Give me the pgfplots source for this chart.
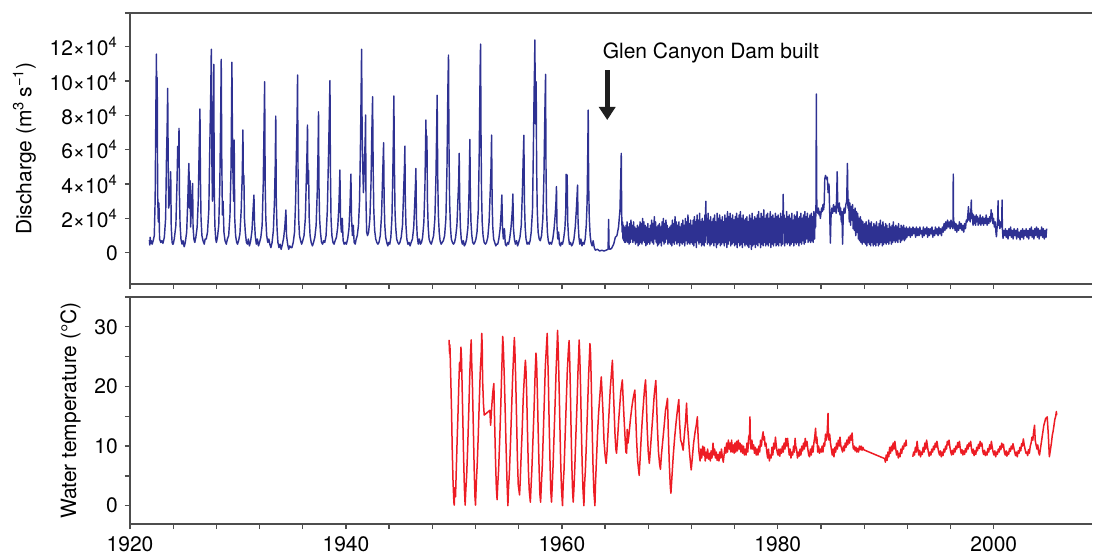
\documentclass[border=0pt]{standalone}
\usepackage{pgfplots}
\pgfplotsset{compat=1.18}
\usepackage{fontspec}
\setmainfont{TeX Gyre Heros}
\usetikzlibrary{arrows.meta}
\definecolor{qblue}{RGB}{46,49,146}
\definecolor{tred}{RGB}{237,28,36}
\definecolor{axgray}{RGB}{77,77,77}

\pgfplotsset{
  panel/.style={
    scale only axis, width=481pt,
    xmin=1920, xmax=2009.1,
    axis x line*=bottom, axis y line*=left,
    axis line style={-, axgray, line width=0.65pt},
    tick align=outside, major tick length=2.6pt, minor tick length=2.6pt,
    tick style={axgray, line width=0.65pt},
    xtick={1920,1940,...,2000}, minor x tick num=4,
    tick label style={font=\fontsize{10.5}{12}\selectfont},
    label style={font=\fontsize{10.5}{12}\selectfont},
    /pgf/number format/assume math mode=true,
    /pgf/number format/1000 sep={},
    clip mode=individual,
  },
}

\begin{document}
\begin{tikzpicture}
% ---- discharge (values in 10^4 m3/s) ----
\begin{axis}[panel, name=top, at={(65pt,-6.5pt)}, anchor=north west,
    height=135.5pt, ymin=-1.82, ymax=13.96,
    ytick={0,2,...,12},
    yticklabels={0,2×10\textsuperscript{4},4×10\textsuperscript{4},6×10\textsuperscript{4},8×10\textsuperscript{4},10×10\textsuperscript{4},12×10\textsuperscript{4}},
    xticklabels={},
    ylabel={Discharge (m\textsuperscript{3}\,s\textsuperscript{−1})},
]
\addplot[qblue, line width=0.72pt, line join=round] coordinates {
(1921.80,0.74)(1921.83,0.45)(1921.87,0.9)(1921.92,0.55)(1921.97,0.7)
(1922.05,0.5)(1922.15,0.7)(1922.25,1.0)(1922.33,3.1)(1922.40,8.6)(1922.45,11.57)(1922.48,7.5)(1922.52,10.2)(1922.56,3.5)(1922.62,1.8)(1922.68,2.9)(1922.74,0.8)(1922.85,0.6)(1922.95,0.7)
(1923.05,0.55)(1923.18,0.9)(1923.30,2.0)(1923.38,5.5)(1923.44,7.2)(1923.49,9.57)(1923.53,6.0)(1923.58,2.6)(1923.68,3.0)(1923.77,4.72)(1923.82,1.5)(1923.90,0.6)(1923.95,0.5)
(1924.00,0.5)(1924.10,0.8)(1924.25,1.6)(1924.35,4.0)(1924.42,6.2)(1924.48,5.0)(1924.54,7.24)(1924.58,3.4)(1924.64,1.6)(1924.72,0.8)(1924.82,0.5)(1924.92,0.7)
(1925.02,0.35)(1925.12,0.6)(1925.25,1.2)(1925.36,3.2)(1925.42,4.6)(1925.46,5.2)(1925.50,2.6)(1925.56,4.2)(1925.62,1.5)(1925.70,3.0)(1925.80,4.04)(1925.84,1.5)(1925.92,0.8)
(1926.00,0.6)(1926.10,0.9)(1926.22,1.5)(1926.32,3.0)(1926.40,5.8)(1926.48,8.37)(1926.52,4.5)(1926.58,2.0)(1926.66,1.0)(1926.76,0.7)(1926.88,0.5)(1926.96,0.8)
(1927.06,0.8)(1927.18,1.2)(1927.30,2.5)(1927.40,6.5)(1927.47,8.9)(1927.53,11.85)(1927.58,5.5)(1927.64,3.0)(1927.72,8.0)(1927.76,10.97)(1927.80,4.0)(1927.86,1.6)(1927.94,0.8)
(1928.00,0.6)(1928.10,0.9)(1928.22,1.6)(1928.32,4.0)(1928.40,8.0)(1928.45,11.26)(1928.50,5.5)(1928.56,2.2)(1928.62,3.0)(1928.70,1.2)(1928.80,0.7)(1928.92,0.5)
(1929.02,0.8)(1929.14,1.0)(1929.26,2.2)(1929.36,5.0)(1929.44,11.09)(1929.48,7.5)(1929.54,4.5)(1929.60,3.0)(1929.65,6.56)(1929.70,2.0)(1929.78,1.0)(1929.88,0.6)(1929.96,0.5)
(1930.06,0.7)(1930.18,1.1)(1930.30,2.5)(1930.40,4.6)(1930.46,7.15)(1930.50,4.0)(1930.55,4.5)(1930.60,2.0)(1930.68,1.2)(1930.78,0.6)(1930.88,0.5)(1930.96,0.8)
(1931.06,0.4)(1931.18,0.7)(1931.30,1.3)(1931.40,2.5)(1931.48,3.36)(1931.53,1.8)(1931.60,1.0)(1931.70,0.5)(1931.80,0.8)(1931.90,0.4)
(1932.00,0.6)(1932.12,0.9)(1932.24,1.6)(1932.34,4.0)(1932.42,7.6)(1932.47,9.96)(1932.52,4.0)(1932.58,2.0)(1932.66,1.0)(1932.76,0.6)(1932.86,0.8)(1932.95,0.5)
(1933.05,0.3)(1933.16,0.6)(1933.28,1.3)(1933.38,3.0)(1933.45,5.0)(1933.50,7.96)(1933.55,3.0)(1933.62,1.4)(1933.70,0.6)(1933.80,0.3)(1933.90,0.5)
(1934.00,0.2)(1934.12,0.5)(1934.24,0.9)(1934.34,1.5)(1934.44,2.49)(1934.50,1.0)(1934.60,0.5)(1934.70,0.2)(1934.80,0.4)(1934.90,0.3)
(1935.00,0.3)(1935.12,0.6)(1935.24,1.2)(1935.34,3.0)(1935.42,6.0)(1935.48,8.0)(1935.52,10.35)(1935.56,5.0)(1935.62,2.0)(1935.70,1.0)(1935.80,0.7)(1935.90,0.5)
(1936.00,0.7)(1936.12,1.0)(1936.24,2.0)(1936.34,4.5)(1936.40,6.0)(1936.44,7.44)(1936.48,4.0)(1936.54,4.8)(1936.60,2.0)(1936.68,1.0)(1936.78,0.6)(1936.90,0.4)
(1937.00,0.6)(1937.12,0.9)(1937.24,1.6)(1937.34,3.5)(1937.42,6.0)(1937.46,8.21)(1937.50,4.0)(1937.56,2.0)(1937.64,1.2)(1937.74,0.6)(1937.84,0.5)(1937.94,0.7)
(1938.04,0.6)(1938.16,1.0)(1938.28,2.5)(1938.38,5.5)(1938.46,8.0)(1938.52,10.02)(1938.56,5.0)(1938.62,2.0)(1938.70,1.0)(1938.80,0.6)(1938.90,0.5)
(1939.00,0.7)(1939.12,0.9)(1939.24,1.5)(1939.34,2.6)(1939.40,3.8)(1939.44,4.82)(1939.50,2.0)(1939.58,1.2)(1939.66,2.0)(1939.74,0.7)(1939.84,0.5)(1939.94,0.6)
(1940.04,0.5)(1940.16,0.8)(1940.28,1.4)(1940.38,2.8)(1940.46,4.58)(1940.52,2.0)(1940.60,1.0)(1940.68,1.6)(1940.76,0.6)(1940.86,0.5)(1940.95,0.8)
(1941.05,1.0)(1941.16,1.6)(1941.26,3.0)(1941.34,6.0)(1941.40,9.0)(1941.45,11.85)(1941.50,7.0)(1941.56,5.0)(1941.62,3.5)(1941.70,5.0)(1941.78,6.5)(1941.82,8.02)(1941.86,3.0)(1941.92,1.2)
(1942.00,1.0)(1942.10,1.2)(1942.22,2.0)(1942.32,4.0)(1942.40,7.0)(1942.47,9.09)(1942.52,5.0)(1942.58,2.5)(1942.66,1.3)(1942.76,0.8)(1942.86,0.6)(1942.96,0.5)
(1943.06,0.6)(1943.18,1.0)(1943.30,2.2)(1943.40,4.5)(1943.49,6.41)(1943.54,3.0)(1943.60,1.6)(1943.68,0.9)(1943.78,0.6)(1943.88,0.4)(1943.96,0.6)
(1944.06,0.5)(1944.16,0.9)(1944.26,2.0)(1944.34,4.5)(1944.40,7.0)(1944.44,9.13)(1944.49,5.0)(1944.55,2.3)(1944.62,1.4)(1944.70,0.8)(1944.80,0.6)(1944.90,0.5)
(1945.00,0.6)(1945.12,0.9)(1945.24,1.6)(1945.34,3.5)(1945.42,5.0)(1945.46,6.21)(1945.50,3.0)(1945.56,1.6)(1945.64,0.8)(1945.74,0.5)(1945.84,0.6)(1945.94,0.4)
(1946.04,0.6)(1946.16,0.8)(1946.28,1.5)(1946.38,3.0)(1946.44,4.0)(1946.48,4.91)(1946.53,2.0)(1946.60,1.0)(1946.70,0.5)(1946.80,0.8)(1946.90,0.5)
(1947.00,0.6)(1947.10,0.9)(1947.22,1.8)(1947.32,4.0)(1947.41,7.73)(1947.45,5.0)(1947.50,6.8)(1947.55,3.0)(1947.62,1.5)(1947.70,0.8)(1947.80,0.6)(1947.90,0.5)
(1948.00,0.7)(1948.12,1.0)(1948.24,2.0)(1948.34,4.5)(1948.40,7.0)(1948.45,9.17)(1948.50,4.5)(1948.56,2.2)(1948.64,1.2)(1948.72,0.7)(1948.82,0.5)(1948.92,0.6)
(1949.02,0.7)(1949.14,1.0)(1949.26,2.0)(1949.36,5.0)(1949.44,9.5)(1949.50,11.51)(1949.54,6.5)(1949.60,3.0)(1949.68,1.5)(1949.76,0.8)(1949.86,0.6)(1949.96,0.5)
(1950.06,0.6)(1950.16,0.9)(1950.28,1.6)(1950.38,3.2)(1950.44,4.1)(1950.49,5.79)(1950.54,3.0)(1950.60,1.5)(1950.68,0.8)(1950.78,0.5)(1950.88,0.7)(1950.96,0.4)
(1951.06,0.5)(1951.18,0.8)(1951.30,1.5)(1951.40,3.5)(1951.48,6.6)(1951.52,3.5)(1951.58,1.8)(1951.66,1.0)(1951.74,0.6)(1951.84,0.5)(1951.94,0.6)
(1952.04,0.8)(1952.14,1.2)(1952.26,2.5)(1952.34,5.5)(1952.40,9.0)(1952.44,11.1)(1952.47,12.15)(1952.51,7.0)(1952.56,3.5)(1952.62,1.8)(1952.70,1.0)(1952.80,0.6)(1952.92,0.5)
(1953.02,0.6)(1953.14,0.9)(1953.26,1.8)(1953.36,3.5)(1953.44,5.0)(1953.49,6.85)(1953.54,3.0)(1953.60,1.5)(1953.68,0.8)(1953.78,0.6)(1953.88,0.4)(1953.96,0.5)
(1954.06,0.5)(1954.16,0.8)(1954.28,1.4)(1954.38,2.4)(1954.44,3.36)(1954.50,1.5)(1954.58,0.8)(1954.68,1.4)(1954.76,0.5)(1954.86,0.4)(1954.96,0.6)
(1955.06,0.5)(1955.16,0.8)(1955.28,1.4)(1955.38,2.2)(1955.42,2.6)(1955.46,3.42)(1955.52,1.4)(1955.60,0.8)(1955.70,0.5)(1955.80,0.7)(1955.90,0.4)
(1956.00,0.6)(1956.12,0.9)(1956.24,1.6)(1956.34,3.5)(1956.42,5.5)(1956.48,6.84)(1956.53,3.0)(1956.60,1.5)(1956.68,0.8)(1956.78,0.5)(1956.88,0.6)(1956.96,0.5)
(1957.06,0.7)(1957.16,1.2)(1957.28,2.5)(1957.36,6.0)(1957.42,9.0)(1957.46,10.5)(1957.50,12.39)(1957.55,7.5)(1957.62,9.96)(1957.66,5.0)(1957.72,2.5)(1957.80,1.2)(1957.90,0.8)
(1958.00,0.7)(1958.12,1.0)(1958.24,2.0)(1958.34,4.5)(1958.42,8.0)(1958.49,10.39)(1958.53,5.0)(1958.58,2.5)(1958.66,1.2)(1958.74,0.7)(1958.84,0.5)(1958.94,0.6)
(1959.04,0.5)(1959.16,0.8)(1959.28,1.4)(1959.38,2.2)(1959.45,2.9)(1959.50,3.85)(1959.55,1.5)(1959.62,0.8)(1959.70,1.2)(1959.78,0.5)(1959.88,0.4)(1959.96,0.6)
(1960.06,0.5)(1960.16,0.8)(1960.28,1.4)(1960.36,2.5)(1960.40,4.57)(1960.44,3.9)(1960.49,4.53)(1960.54,1.8)(1960.62,0.9)(1960.70,0.5)(1960.80,0.6)(1960.90,0.4)
(1961.00,0.5)(1961.12,0.8)(1961.24,1.5)(1961.34,2.5)(1961.42,3.5)(1961.45,3.94)(1961.50,1.8)(1961.58,0.9)(1961.66,0.5)(1961.76,0.8)(1961.86,0.4)(1961.96,0.6)
(1962.06,0.5)(1962.16,0.8)(1962.26,1.6)(1962.34,3.0)(1962.40,6.0)(1962.44,8.31)(1962.48,4.0)(1962.54,2.0)(1962.62,1.0)(1962.70,0.6)(1962.80,0.4)(1962.90,0.7)
(1963.00,0.3)(1963.10,0.15)(1963.30,0.2)(1963.50,0.1)(1963.70,0.15)(1963.90,0.1)(1964.10,0.15)(1964.28,0.2)(1964.33,1.94)(1964.37,0.3)(1964.45,0.2)(1964.60,0.25)(1964.80,0.5)(1964.95,0.9)
(1965.10,1.0)(1965.25,1.5)(1965.38,2.5)(1965.46,4.5)(1965.50,5.79)(1965.54,2.3)
(1965.58,1.2)(1965.62,1.8)(1965.66,0.8)(1965.70,1.6)(1965.74,0.7)(1965.78,1.5)(1965.82,0.6)(1965.86,1.4)(1965.90,0.6)(1965.94,1.6)(1965.98,0.7)
(1966.04,1.8)(1966.10,0.6)(1966.16,1.5)(1966.22,0.5)(1966.28,1.7)(1966.34,0.6)(1966.40,1.9)(1966.46,0.8)(1966.52,1.6)(1966.58,0.6)(1966.64,1.8)(1966.70,0.7)(1966.76,1.5)(1966.82,0.5)(1966.88,1.4)(1966.94,0.6)
(1967.00,1.6)(1967.06,0.4)(1967.12,1.5)(1967.18,0.5)(1967.24,1.8)(1967.30,0.6)(1967.36,1.7)(1967.42,0.5)(1967.48,2.0)(1967.54,0.7)(1967.60,1.8)(1967.66,0.6)(1967.72,1.6)(1967.78,0.4)(1967.84,1.5)(1967.90,0.5)(1967.96,1.7)
(1968.02,0.6)(1968.08,1.4)(1968.14,0.5)(1968.20,1.6)(1968.26,0.7)(1968.32,1.9)(1968.38,0.6)(1968.44,1.7)(1968.50,0.5)(1968.56,2.1)(1968.62,0.8)(1968.68,1.8)(1968.74,0.6)(1968.80,1.5)(1968.86,0.4)(1968.92,1.6)(1968.98,0.5)
(1969.04,1.7)(1969.10,0.6)(1969.16,1.5)(1969.22,0.4)(1969.28,1.8)(1969.34,0.7)(1969.40,2.0)(1969.46,0.5)(1969.52,1.7)(1969.58,0.6)(1969.64,1.9)(1969.70,0.8)(1969.76,1.6)(1969.82,0.5)(1969.88,1.4)(1969.94,0.6)
(1970.00,1.5)(1970.06,0.5)(1970.12,1.6)(1970.18,0.4)(1970.24,1.9)(1970.30,0.6)(1970.36,1.7)(1970.42,0.5)(1970.48,2.1)(1970.54,0.7)(1970.60,1.8)(1970.66,0.5)(1970.72,1.6)(1970.78,0.6)(1970.84,1.8)(1970.90,0.4)(1970.96,1.5)
(1971.02,0.6)(1971.08,1.7)(1971.14,0.5)(1971.20,1.9)(1971.26,0.6)(1971.32,1.6)(1971.38,0.4)(1971.44,2.0)(1971.50,0.7)(1971.56,1.8)(1971.62,0.5)(1971.68,2.2)(1971.74,0.6)(1971.80,1.7)(1971.86,0.5)(1971.92,1.9)(1971.98,0.6)
(1972.04,1.6)(1972.10,0.5)(1972.16,1.9)(1972.22,0.4)(1972.28,2.1)(1972.34,0.6)(1972.40,1.8)(1972.46,0.3)(1972.52,2.2)(1972.58,0.7)(1972.64,1.9)(1972.70,0.5)(1972.76,2.3)(1972.82,0.6)(1972.88,1.8)(1972.94,0.4)
(1973.00,2.0)(1973.06,0.5)(1973.12,1.8)(1973.18,0.4)(1973.24,2.2)(1973.28,0.6)(1973.31,2.4)(1973.34,3.0)(1973.37,1.0)(1973.42,2.0)(1973.48,0.5)(1973.54,2.3)(1973.60,0.6)(1973.66,1.9)(1973.72,0.4)(1973.78,2.1)(1973.84,0.5)(1973.90,1.8)(1973.96,0.6)
(1974.02,2.0)(1974.08,0.4)(1974.14,2.2)(1974.20,0.6)(1974.26,1.8)(1974.32,0.3)(1974.38,2.3)(1974.44,0.5)(1974.50,2.0)(1974.56,0.6)(1974.62,2.2)(1974.68,0.4)(1974.74,1.9)(1974.80,0.5)(1974.86,2.1)(1974.92,0.6)(1974.98,1.8)
(1975.04,0.4)(1975.10,2.2)(1975.16,0.6)(1975.22,2.0)(1975.28,0.3)(1975.34,2.4)(1975.40,0.5)(1975.46,2.1)(1975.52,0.7)(1975.58,2.3)(1975.64,0.4)(1975.70,2.0)(1975.76,0.5)(1975.82,2.2)(1975.88,0.6)(1975.94,1.9)
(1976.00,0.4)(1976.06,2.1)(1976.12,0.5)(1976.18,2.3)(1976.24,0.3)(1976.30,2.0)(1976.36,0.6)(1976.42,2.2)(1976.48,0.4)(1976.54,2.4)(1976.60,0.5)(1976.66,2.0)(1976.72,0.3)(1976.78,2.2)(1976.84,0.6)(1976.90,1.9)(1976.96,0.4)
(1977.02,2.0)(1977.08,0.5)(1977.14,2.1)(1977.20,0.4)(1977.26,1.8)(1977.32,0.3)(1977.38,2.2)(1977.44,0.5)(1977.50,2.0)(1977.56,0.2)(1977.62,2.3)(1977.68,0.4)(1977.74,1.9)(1977.80,0.5)(1977.86,2.1)(1977.92,0.3)(1977.98,2.0)
(1978.04,0.5)(1978.10,2.2)(1978.16,0.4)(1978.22,2.4)(1978.28,0.6)(1978.34,2.0)(1978.40,0.3)(1978.46,2.3)(1978.52,0.5)(1978.58,2.1)(1978.64,0.4)(1978.70,2.5)(1978.76,0.6)(1978.82,2.0)(1978.88,0.4)(1978.94,2.2)
(1979.00,0.5)(1979.06,2.3)(1979.12,0.4)(1979.18,2.0)(1979.24,0.6)(1979.30,2.4)(1979.36,0.3)(1979.42,2.1)(1979.48,0.5)(1979.54,2.2)(1979.60,0.4)(1979.66,2.0)(1979.72,0.6)(1979.78,2.3)(1979.84,0.4)(1979.90,2.1)(1979.96,0.5)
(1980.02,2.2)(1980.08,0.4)(1980.14,2.0)(1980.20,0.6)(1980.26,2.3)(1980.32,0.4)(1980.38,2.1)(1980.44,0.5)(1980.48,2.6)(1980.50,3.4)(1980.53,1.2)(1980.58,2.2)(1980.64,0.4)(1980.70,2.0)(1980.76,0.6)(1980.82,2.4)(1980.88,0.5)(1980.94,2.1)
(1981.00,0.6)(1981.06,2.2)(1981.12,0.4)(1981.18,2.0)(1981.24,0.5)(1981.30,2.3)(1981.36,0.6)(1981.42,1.9)(1981.48,0.4)(1981.54,2.2)(1981.60,0.6)(1981.66,2.1)(1981.72,0.5)(1981.78,2.4)(1981.84,0.6)(1981.90,2.0)(1981.96,0.4)
(1982.02,2.1)(1982.08,0.6)(1982.14,2.3)(1982.20,0.5)(1982.26,2.0)(1982.32,0.7)(1982.38,2.2)(1982.44,0.5)(1982.50,2.4)(1982.56,0.6)(1982.62,2.1)(1982.68,0.8)(1982.74,2.3)(1982.80,0.6)(1982.86,2.0)(1982.92,0.7)(1982.98,2.2)
(1983.04,0.6)(1983.10,2.3)(1983.16,0.7)(1983.22,2.1)(1983.28,0.6)(1983.34,2.4)(1983.40,0.8)(1983.46,2.3)(1983.50,1.5)(1983.54,3.0)(1983.57,9.24)(1983.60,3.5)(1983.62,2.6)
(1983.66,2.5)(1983.70,2.3)(1983.76,2.6)(1983.82,2.2)(1983.88,2.4)(1983.94,2.0)(1984.00,2.3)(1984.06,2.6)(1984.12,2.4)(1984.18,2.8)(1984.24,2.5)(1984.30,2.9)(1984.35,4.3)(1984.42,4.5)(1984.50,4.3)(1984.58,4.4)(1984.66,3.5)(1984.74,4.0)(1984.80,2.5)(1984.87,0.56)(1984.92,2.0)
(1985.00,2.6)(1985.08,2.3)(1985.16,2.8)(1985.24,2.4)(1985.32,2.7)(1985.40,2.3)(1985.46,3.5)(1985.50,4.72)(1985.55,2.8)(1985.62,2.4)(1985.70,2.9)(1985.76,2.2)(1985.82,2.6)(1985.88,1.8)(1985.94,2.4)
(1986.00,0.5)(1986.06,2.2)(1986.14,2.6)(1986.22,2.3)(1986.30,2.8)(1986.38,3.0)(1986.45,5.2)(1986.50,2.6)(1986.56,3.1)(1986.62,1.8)(1986.68,2.9)(1986.74,1.6)(1986.80,2.7)(1986.86,1.9)(1986.92,2.8)(1986.98,1.4)
(1987.04,2.5)(1987.10,1.3)(1987.16,2.6)(1987.22,1.0)(1987.28,2.4)(1987.34,1.2)(1987.40,2.3)(1987.46,0.8)(1987.52,2.0)(1987.58,0.7)(1987.64,2.1)(1987.70,0.6)(1987.76,1.9)(1987.82,0.5)(1987.88,1.8)
(1988.00,0.6)(1988.06,1.7)(1988.12,0.5)(1988.18,1.8)(1988.24,0.4)(1988.30,1.6)(1988.36,0.6)(1988.42,1.9)(1988.48,0.5)(1988.54,1.7)(1988.60,0.4)(1988.66,1.8)(1988.72,0.6)(1988.78,1.5)(1988.84,0.4)(1988.90,1.7)(1988.96,0.5)
(1989.02,1.6)(1989.08,0.4)(1989.14,1.8)(1989.20,0.6)(1989.26,1.5)(1989.32,0.4)(1989.38,1.7)(1989.44,0.5)(1989.50,1.9)(1989.56,0.6)(1989.62,1.6)(1989.68,0.4)(1989.74,1.8)(1989.80,0.5)(1989.86,1.5)(1989.92,0.6)(1989.98,1.7)
(1990.04,0.5)(1990.10,1.6)(1990.16,0.6)(1990.22,1.4)(1990.28,0.5)(1990.34,1.7)(1990.40,0.7)(1990.46,1.5)(1990.52,0.5)(1990.58,1.6)(1990.64,0.6)(1990.70,1.8)(1990.76,0.7)(1990.82,1.5)(1990.88,0.6)(1990.94,1.6)
(1991.00,0.7)(1991.06,1.5)(1991.12,0.6)(1991.18,1.7)(1991.24,0.8)(1991.30,1.4)(1991.36,0.6)(1991.42,1.6)(1991.48,0.7)(1991.54,1.5)(1991.60,0.8)(1991.66,1.6)(1991.72,0.7)(1991.78,1.4)(1991.84,0.8)(1991.90,1.5)(1991.96,0.9)
(1992.04,1.4)(1992.12,1.0)(1992.20,1.5)(1992.28,0.9)(1992.36,1.4)(1992.44,1.0)(1992.52,1.5)(1992.60,1.1)(1992.68,1.4)(1992.76,0.9)(1992.84,1.5)(1992.92,1.0)
(1993.00,1.4)(1993.08,1.0)(1993.16,1.5)(1993.24,1.1)(1993.32,1.3)(1993.40,0.9)(1993.48,1.5)(1993.56,1.0)(1993.64,1.4)(1993.72,1.1)(1993.80,1.5)(1993.88,0.9)(1993.96,1.4)
(1994.04,1.0)(1994.12,1.4)(1994.20,1.1)(1994.28,1.5)(1994.36,0.9)(1994.44,1.3)(1994.52,1.0)(1994.60,1.5)(1994.68,1.1)(1994.76,1.4)(1994.84,1.0)(1994.92,1.5)
(1995.00,1.1)(1995.08,1.4)(1995.16,1.0)(1995.24,1.5)(1995.32,1.2)(1995.40,1.7)(1995.48,1.3)(1995.56,1.8)(1995.64,1.4)(1995.72,1.9)(1995.80,1.5)(1995.88,1.8)(1995.96,1.4)
(1996.04,1.9)(1996.12,1.5)(1996.18,1.8)(1996.22,1.4)(1996.25,4.58)(1996.28,1.5)(1996.34,1.8)(1996.42,1.3)(1996.50,1.7)(1996.58,1.2)(1996.66,1.6)(1996.74,1.3)(1996.82,1.8)(1996.90,1.4)(1996.98,1.7)
(1997.06,1.3)(1997.14,1.6)(1997.22,1.2)(1997.30,1.7)(1997.38,1.4)(1997.46,1.9)(1997.54,1.8)(1997.60,2.2)(1997.66,2.68)(1997.70,1.9)(1997.76,2.3)(1997.82,1.8)(1997.88,2.4)(1997.92,3.07)(1997.96,2.0)
(1998.02,2.3)(1998.08,1.6)(1998.14,2.2)(1998.20,1.7)(1998.26,2.1)(1998.32,1.6)(1998.38,2.2)(1998.44,1.8)(1998.50,2.1)(1998.56,1.6)(1998.62,2.0)(1998.68,1.7)(1998.74,2.2)(1998.80,1.6)(1998.86,2.0)(1998.92,1.7)(1998.98,2.1)
(1999.06,1.6)(1999.14,2.0)(1999.22,1.7)(1999.30,2.2)(1999.38,1.6)(1999.46,2.0)(1999.54,1.7)(1999.62,2.1)(1999.70,1.8)(1999.76,2.5)(1999.80,2.0)(1999.86,2.3)(1999.92,1.7)(1999.98,2.0)
(2000.06,1.5)(2000.14,1.8)(2000.20,1.2)(2000.25,0.93)(2000.30,1.4)(2000.36,1.8)(2000.40,3.03)(2000.43,1.6)(2000.50,1.9)(2000.56,1.4)(2000.62,1.8)(2000.68,1.5)(2000.74,1.7)(2000.77,3.07)(2000.80,1.4)(2000.86,0.84)(2000.92,1.3)
(2001.00,1.0)(2001.08,1.4)(2001.16,0.9)(2001.24,1.3)(2001.32,0.8)(2001.40,1.4)(2001.48,1.0)(2001.56,1.5)(2001.64,0.9)(2001.72,1.3)(2001.80,0.8)(2001.88,1.4)(2001.96,1.0)
(2002.04,1.3)(2002.12,0.8)(2002.20,1.4)(2002.28,0.9)(2002.36,1.2)(2002.44,0.75)(2002.52,1.3)(2002.60,0.9)(2002.68,1.4)(2002.76,0.8)(2002.84,1.3)(2002.92,1.0)
(2003.00,1.4)(2003.08,0.9)(2003.16,1.3)(2003.24,0.8)(2003.32,1.4)(2003.40,1.0)(2003.48,1.5)(2003.56,0.9)(2003.64,1.3)(2003.72,0.8)(2003.80,1.4)(2003.88,1.0)(2003.96,1.5)
(2004.04,0.9)(2004.12,1.4)(2004.20,0.8)(2004.28,1.3)(2004.36,1.0)(2004.44,1.5)(2004.52,0.9)(2004.60,1.4)(2004.68,0.8)(2004.76,1.3)(2004.84,0.9)(2004.90,1.4)
};
\node[font=\fontsize{10.5}{12}\selectfont] at (axis cs:1973.8,11.63) {Glen Canyon Dam built};
\draw[-{Triangle[width=8pt,length=6.5pt]}, line width=2.5pt, black!88]
  (axis cs:1964.2,10.64) -- (axis cs:1964.2,7.73);
\end{axis}

% ---- water temperature (deg C) ----
\begin{axis}[panel, name=bot, at={(65pt,-148.5pt)}, anchor=north west,
    height=113.5pt, ymin=-3.07, ymax=35,
    ytick={0,10,20,30}, minor ytick={5,15,25},
    ylabel={Water temperature (°C)},
    unbounded coords=jump,
]
\addplot[tred, line width=0.75pt, line join=round] coordinates {
(1949.55,27.8)(1949.60,25.5)(1949.63,27.0)(1949.70,22.0)(1949.78,16.0)(1949.85,9.0)(1949.92,4.0)(1950.00,0.5)(1950.03,0.1)
(1950.08,3.0)(1950.15,1.5)(1950.22,6.0)(1950.30,11.0)(1950.38,15.5)(1950.45,20.0)(1950.52,24.0)(1950.58,22.5)(1950.65,26.6)(1950.70,25.0)(1950.75,21.0)(1950.82,15.0)(1950.90,8.0)(1950.97,3.0)
(1951.04,0.1)(1951.10,2.5)(1951.18,5.0)(1951.28,10.0)(1951.38,16.0)(1951.47,22.0)(1951.55,26.0)(1951.60,27.8)(1951.65,24.0)(1951.72,20.0)(1951.80,13.0)(1951.88,6.0)(1951.95,1.5)
(1952.00,0.1)(1952.08,4.0)(1952.16,7.0)(1952.26,12.0)(1952.36,18.0)(1952.45,23.0)(1952.53,25.5)(1952.58,28.9)(1952.62,27.0)(1952.66,21.0)(1952.74,17.0)(1952.81,15.2)
(1953.33,16.0)(1953.40,13.5)(1953.50,16.5)(1953.60,19.0)(1953.70,20.5)(1953.76,15.0)(1953.85,8.0)(1953.93,3.0)
(1954.00,1.0)(1954.06,3.5)(1954.14,6.0)(1954.24,11.0)(1954.33,16.0)(1954.42,22.0)(1954.47,25.0)(1954.52,28.4)(1954.58,26.5)(1954.66,22.0)(1954.75,16.0)(1954.83,10.0)(1954.92,4.0)
(1955.00,0.0)(1955.06,3.0)(1955.14,5.5)(1955.24,10.5)(1955.34,16.0)(1955.43,21.0)(1955.52,25.0)(1955.60,28.2)(1955.65,26.0)(1955.72,21.5)(1955.80,15.0)(1955.88,8.0)(1955.96,3.5)
(1956.08,1.8)(1956.14,4.0)(1956.22,8.0)(1956.32,12.5)(1956.42,18.0)(1956.52,21.5)(1956.62,24.4)(1956.67,23.0)(1956.74,19.0)(1956.82,12.0)(1956.90,6.0)(1956.98,2.5)
(1957.08,0.6)(1957.14,3.0)(1957.22,6.0)(1957.32,11.0)(1957.42,16.0)(1957.52,22.0)(1957.60,25.6)(1957.66,24.0)(1957.73,19.0)(1957.80,13.0)(1957.88,7.0)(1957.96,2.0)
(1958.03,0.6)(1958.10,3.5)(1958.18,6.5)(1958.28,12.0)(1958.38,18.0)(1958.47,23.5)(1958.55,26.0)(1958.64,28.9)(1958.68,26.0)(1958.75,21.0)(1958.82,14.0)(1958.90,7.5)(1958.97,2.5)
(1959.04,0.6)(1959.10,3.0)(1959.18,6.5)(1959.28,12.0)(1959.38,17.5)(1959.47,23.0)(1959.55,26.5)(1959.60,29.4)(1959.65,27.0)(1959.72,22.0)(1959.80,15.0)(1959.88,8.0)(1959.96,3.0)
(1960.06,0.0)(1960.12,3.5)(1960.20,6.0)(1960.30,11.5)(1960.40,17.0)(1960.50,22.5)(1960.60,26.0)(1960.67,27.7)(1960.72,25.0)(1960.78,20.0)(1960.85,13.0)(1960.92,7.0)(1960.99,2.5)
(1961.05,0.6)(1961.12,3.0)(1961.20,6.5)(1961.30,12.0)(1961.40,17.0)(1961.50,23.0)(1961.56,25.5)(1961.60,27.8)(1961.66,25.0)(1961.73,20.0)(1961.80,13.5)(1961.88,7.0)(1961.96,2.5)
(1962.04,0.0)(1962.10,3.5)(1962.18,6.0)(1962.28,11.0)(1962.38,16.5)(1962.48,22.0)(1962.55,25.0)(1962.60,27.2)(1962.66,25.5)(1962.73,20.0)(1962.80,13.5)(1962.88,7.0)(1962.96,2.5)
(1963.06,0.0)(1963.12,4.0)(1963.20,7.5)(1963.30,12.0)(1963.40,15.5)(1963.50,18.0)(1963.58,20.0)(1963.65,21.6)(1963.72,19.0)(1963.80,16.0)(1963.90,11.0)(1964.00,8.5)
(1964.10,7.1)(1964.18,9.0)(1964.28,12.5)(1964.38,16.0)(1964.48,19.5)(1964.58,22.0)(1964.68,24.4)(1964.74,21.0)(1964.82,17.0)(1964.92,12.0)(1965.00,9.5)
(1965.06,8.8)(1965.15,11.0)(1965.25,14.0)(1965.35,16.5)(1965.45,19.0)(1965.60,21.1)(1965.66,18.5)(1965.75,15.0)(1965.85,11.5)(1965.93,9.0)(1966.00,8.8)
(1966.05,12.8)(1966.12,10.5)(1966.22,12.0)(1966.35,14.5)(1966.48,16.5)(1966.60,18.0)(1966.76,19.4)(1966.82,16.0)(1966.92,11.0)(1967.02,7.5)
(1967.16,5.1)(1967.25,8.0)(1967.35,11.5)(1967.45,14.5)(1967.55,17.0)(1967.65,19.5)(1967.75,21.1)(1967.82,18.0)(1967.90,13.0)(1968.00,9.0)
(1968.10,7.1)(1968.20,9.5)(1968.30,12.0)(1968.42,15.0)(1968.55,18.5)(1968.70,21.0)(1968.76,18.0)(1968.85,13.0)(1968.95,9.0)(1969.05,7.0)
(1969.13,6.1)(1969.22,8.5)(1969.35,11.0)(1969.48,13.5)(1969.60,16.0)(1969.70,17.0)(1969.78,18.0)(1969.85,13.0)(1969.95,7.0)(1970.05,3.0)
(1970.10,2.1)(1970.20,5.0)(1970.32,8.5)(1970.45,11.5)(1970.58,14.0)(1970.70,16.0)(1970.83,17.8)(1970.90,14.0)(1971.00,11.0)(1971.10,10.5)
(1971.23,9.3)(1971.35,12.0)(1971.45,14.0)(1971.55,17.2)(1971.60,14.6)(1971.70,12.0)(1971.82,9.0)(1971.92,7.0)(1971.98,6.0)
(1972.08,8.0)(1972.20,10.5)(1972.35,12.5)(1972.45,13.5)(1972.55,14.9)(1972.62,11.5)(1972.70,9.0)
(1972.80,7.5)(1972.88,9.5)(1972.95,8.0)(1973.05,10.0)(1973.12,8.5)(1973.20,9.8)(1973.28,7.5)(1973.35,9.0)(1973.42,8.0)(1973.50,9.5)(1973.58,7.8)(1973.66,8.8)(1973.75,7.5)(1973.82,9.2)(1973.90,8.0)
(1974.00,10.5)(1974.08,8.5)(1974.15,9.5)(1974.22,8.0)(1974.30,9.0)(1974.38,7.6)(1974.46,8.6)(1974.55,7.5)(1974.62,9.0)(1974.70,8.0)(1974.78,9.5)(1974.86,8.2)(1974.95,7.3)
(1975.02,8.5)(1975.10,9.8)(1975.18,8.8)(1975.26,10.5)(1975.34,9.0)(1975.42,11.0)(1975.50,9.5)(1975.58,10.5)(1975.65,9.0)(1975.72,11.0)(1975.80,9.0)(1975.88,10.2)(1975.95,8.8)
(1976.02,10.5)(1976.10,9.0)(1976.18,10.8)(1976.26,9.2)(1976.34,11.0)(1976.42,9.5)(1976.50,10.5)(1976.58,9.0)(1976.66,10.2)(1976.75,8.8)(1976.82,10.0)(1976.90,8.5)(1976.98,9.5)
(1977.06,8.5)(1977.14,10.5)(1977.22,9.0)(1977.30,11.5)(1977.38,12.0)(1977.42,14.9)(1977.46,10.5)(1977.52,9.5)(1977.60,11.0)(1977.68,9.5)(1977.76,10.2)(1977.84,8.8)(1977.92,9.8)
(1978.00,8.5)(1978.08,9.5)(1978.16,8.5)(1978.24,10.0)(1978.32,9.0)(1978.40,11.0)(1978.48,10.0)(1978.56,11.5)(1978.64,12.4)(1978.70,11.0)(1978.76,11.6)(1978.82,10.0)(1978.90,10.5)(1978.98,9.0)
(1979.06,8.0)(1979.14,9.5)(1979.22,7.5)(1979.30,8.5)(1979.38,8.0)(1979.46,9.8)(1979.54,8.5)(1979.62,10.5)(1979.70,9.5)(1979.78,11.5)(1979.86,10.0)(1979.94,9.0)
(1980.02,8.5)(1980.10,9.5)(1980.18,8.3)(1980.26,9.5)(1980.34,8.8)(1980.42,10.0)(1980.50,9.0)(1980.58,10.5)(1980.66,9.5)(1980.74,11.3)(1980.82,10.0)(1980.90,11.3)(1980.98,9.8)
(1981.06,8.5)(1981.14,9.5)(1981.22,8.0)(1981.30,9.0)(1981.38,8.5)(1981.46,10.0)(1981.54,9.0)(1981.60,11.3)(1981.66,10.0)(1981.74,9.5)(1981.82,8.0)(1981.90,9.0)(1981.98,8.3)
(1982.06,9.5)(1982.14,8.5)(1982.22,10.0)(1982.30,9.2)(1982.38,10.5)(1982.46,9.5)(1982.54,11.3)(1982.62,10.0)(1982.70,10.8)(1982.78,9.5)(1982.86,8.5)(1982.94,8.2)
(1983.02,9.5)(1983.10,8.5)(1983.18,10.0)(1983.26,9.0)(1983.34,10.5)(1983.42,11.5)(1983.50,13.0)(1983.56,10.5)(1983.62,11.5)(1983.70,9.0)(1983.78,10.0)(1983.86,8.8)(1983.94,9.5)
(1984.02,9.0)(1984.10,10.0)(1984.18,9.0)(1984.26,10.5)(1984.34,10.0)(1984.42,12.0)(1984.50,11.0)(1984.58,12.5)(1984.65,15.5)(1984.68,12.0)(1984.74,11.0)(1984.80,12.0)(1984.88,10.5)(1984.96,9.5)
(1985.04,8.5)(1985.12,9.5)(1985.20,8.2)(1985.28,9.8)(1985.36,9.0)(1985.44,10.5)(1985.52,9.5)(1985.60,11.0)(1985.68,10.0)(1985.76,11.5)(1985.84,10.0)(1985.92,9.5)
(1986.00,9.0)(1986.08,10.0)(1986.16,9.2)(1986.24,10.5)(1986.32,9.8)(1986.40,11.0)(1986.48,10.2)(1986.56,11.5)(1986.64,10.5)(1986.72,11.8)(1986.80,11.0)(1986.88,12.2)(1986.94,10.5)
(1987.00,9.5)(1987.08,10.0)(1987.16,9.2)(1987.24,9.8)(1987.32,9.0)(1987.40,9.6)(1987.48,9.0)(1987.56,10.0)(1987.64,9.4)(1987.72,10.0)(1987.80,9.3)(1987.88,9.8)(1987.96,9.4)(1988.06,9.3)
(1989.90,7.9)(1989.96,7.3)(1990.04,8.5)(1990.12,7.6)(1990.20,9.0)(1990.28,8.2)(1990.36,9.8)(1990.44,8.8)(1990.52,10.0)(1990.60,9.2)(1990.68,10.5)(1990.76,9.5)(1990.84,10.8)(1990.92,9.6)
(1991.00,8.5)(1991.08,9.2)(1991.16,8.0)(1991.24,8.8)(1991.32,8.2)(1991.40,9.5)(1991.48,8.8)(1991.56,10.0)(1991.64,9.5)(1991.72,10.5)(1991.80,10.0)(1991.88,11.0)(1991.92,10.0)
(1992.20,nan)
(1992.50,8.2)(1992.58,9.0)(1992.66,8.5)(1992.74,9.8)(1992.82,9.0)(1992.90,10.8)(1992.98,9.5)
(1993.06,8.5)(1993.14,9.3)(1993.22,8.2)(1993.30,9.0)(1993.38,8.6)(1993.46,9.8)(1993.54,9.0)(1993.62,10.5)(1993.70,9.5)(1993.78,11.0)(1993.86,10.0)(1993.94,9.0)
(1994.02,8.3)(1994.10,9.0)(1994.18,8.5)(1994.26,9.5)(1994.34,9.0)(1994.42,10.0)(1994.50,9.4)(1994.58,10.5)(1994.66,9.8)(1994.74,10.8)(1994.82,9.8)(1994.90,9.0)(1994.98,8.5)
(1995.06,9.2)(1995.14,8.2)(1995.22,9.0)(1995.30,8.4)(1995.38,9.5)(1995.46,9.0)(1995.54,10.0)(1995.62,9.5)(1995.70,10.8)(1995.78,10.2)(1995.86,11.0)(1995.94,9.8)
(1996.02,9.0)(1996.10,8.5)(1996.18,9.3)(1996.26,8.6)(1996.34,9.6)(1996.42,9.0)(1996.50,10.0)(1996.58,9.5)(1996.66,10.6)(1996.74,9.8)(1996.82,10.8)(1996.90,9.6)(1996.98,8.8)
(1997.06,9.4)(1997.14,8.5)(1997.22,9.2)(1997.30,8.6)(1997.38,9.6)(1997.46,9.0)(1997.54,10.2)(1997.62,9.5)(1997.70,10.5)(1997.78,10.0)(1997.86,10.8)(1997.94,9.5)
(1998.02,8.8)(1998.10,9.5)(1998.18,8.4)(1998.26,9.2)(1998.34,8.6)(1998.42,9.8)(1998.50,9.2)(1998.58,10.3)(1998.66,9.6)(1998.74,10.8)(1998.82,10.0)(1998.90,10.5)(1998.98,9.2)
(1999.06,8.6)(1999.14,9.3)(1999.22,8.4)(1999.30,9.0)(1999.38,8.5)(1999.46,9.6)(1999.54,9.0)(1999.62,10.2)(1999.70,9.5)(1999.78,10.8)(1999.86,9.8)(1999.94,9.0)
(2000.02,8.5)(2000.10,9.2)(2000.18,8.2)(2000.26,9.0)(2000.34,8.6)(2000.42,9.5)(2000.50,9.0)(2000.58,10.0)(2000.66,9.4)(2000.74,10.5)(2000.82,9.8)(2000.90,10.3)(2000.98,9.0)
(2001.06,8.5)(2001.14,9.2)(2001.22,8.3)(2001.30,9.0)(2001.38,8.6)(2001.46,9.6)(2001.54,9.1)(2001.62,10.0)(2001.70,9.5)(2001.78,10.4)(2001.86,9.7)(2001.94,9.0)
(2002.02,8.4)(2002.10,9.0)(2002.18,8.2)(2002.26,9.2)(2002.34,8.8)(2002.42,9.8)(2002.50,9.2)(2002.58,10.4)(2002.66,10.0)(2002.74,11.2)(2002.82,10.2)(2002.90,9.5)(2002.98,8.8)
(2003.06,9.0)(2003.14,8.4)(2003.22,9.4)(2003.30,8.8)(2003.38,10.0)(2003.46,10.5)(2003.54,11.5)(2003.62,11.0)(2003.70,12.5)(2003.78,13.5)(2003.84,11.0)(2003.92,10.2)
(2004.00,9.5)(2004.08,10.2)(2004.16,8.9)(2004.24,8.5)(2004.32,9.5)(2004.40,10.5)(2004.48,11.5)(2004.56,12.5)(2004.64,13.5)(2004.72,14.0)(2004.80,14.6)(2004.95,14.9)
(2005.05,12.0)(2005.15,8.2)(2005.26,9.5)(2005.34,10.5)(2005.42,11.8)(2005.50,12.5)(2005.58,13.5)(2005.66,14.5)(2005.74,15.0)(2005.80,15.8)(2005.83,15.2)
};
\end{axis}

% top frame lines (no ticks)
\draw[axgray, line width=0.65pt] ([xshift=-2.6pt]top.north west) -- (top.north east);
\draw[axgray, line width=0.65pt] ([xshift=-2.6pt]bot.north west) -- (bot.north east);

\pgfresetboundingbox
\path (0pt,0pt) rectangle (546.5pt,-279pt);
\end{tikzpicture}
\end{document}
